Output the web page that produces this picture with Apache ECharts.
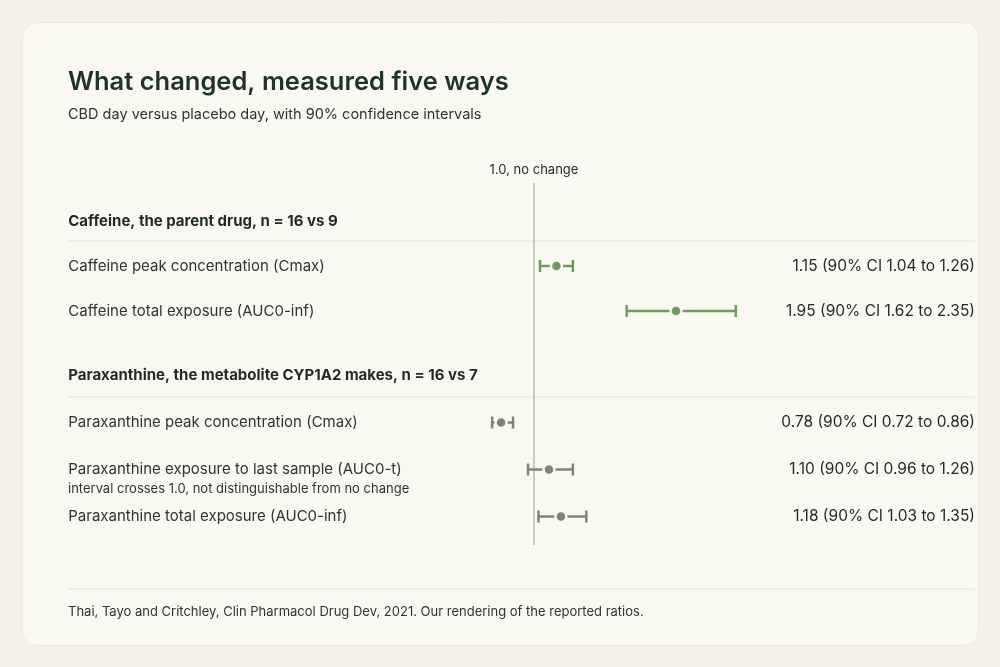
<!DOCTYPE html>
<html><head><meta charset="utf-8">
<script src="https://cdn.jsdelivr.net/npm/echarts@6/dist/echarts.min.js"></script>
<style>html,body{margin:0;background:#f3f1e7}#c{width:1000px;height:667px}</style>
</head><body><div id="c"></div>
<script>
const caffeineRows = ['Caffeine, the parent drug, n = 16 vs 9','Caffeine peak concentration (Cmax)','Caffeine total exposure (AUC0-inf)'];
const paraRows = ['Paraxanthine, the metabolite CYP1A2 makes, n = 16 vs 7','Paraxanthine peak concentration (Cmax)','Paraxanthine exposure to last sample (AUC0-t)','Paraxanthine total exposure (AUC0-inf)'];
const caffeineEst = [1.15, 1.95], caffeineLo = [1.04, 1.62], caffeineHi = [1.26, 2.35];
const paraEst = [0.78, 1.10, 1.18], paraLo = [0.72, 0.96, 1.03], paraHi = [0.86, 1.26, 1.35];
const paraNotes = ['', 'interval crosses 1.0, not distinguishable from no change', ''];
const FONT = 'Inter';
function fmt(e,l,h){return e.toFixed(2)+' (90% CI '+l.toFixed(2)+' to '+h.toFixed(2)+')';}
function build(est,lo,hi,notes){return est.map((e,i)=>[i+1,e,lo[i],hi[i],fmt(e,lo[i],hi[i]),notes?notes[i]:'']);}
function render(color){
  return function(params, api){
    const y = api.coord([1, api.value(0)])[1];
    const pE = api.coord([api.value(1), api.value(0)]);
    const pL = api.coord([api.value(2), api.value(0)]);
    const pH = api.coord([api.value(3), api.value(0)]);
    const st = {stroke: color, lineWidth: 2.5};
    const ch = [
      {type:'line', shape:{x1:pL[0],y1:y,x2:pH[0],y2:y}, style:st},
      {type:'line', shape:{x1:pL[0],y1:y-6,x2:pL[0],y2:y+6}, style:st},
      {type:'line', shape:{x1:pH[0],y1:y-6,x2:pH[0],y2:y+6}, style:st},
      {type:'circle', shape:{cx:pE[0],cy:y,r:5.5}, style:{fill:color, stroke:'#faf9f1', lineWidth:2.5}},
      {type:'text', x:975, y:y, style:{text:api.value(4), align:'right', verticalAlign:'middle', font:'15.5px '+FONT, fill:'#1f2a24'}}
    ];
    const note = api.value(5);
    if (note) ch.push({type:'text', x:68, y:y+20, style:{text:note, align:'left', verticalAlign:'middle', font:'13px '+FONT, fill:'#2c3630'}});
    return {type:'group', children:ch};
  };
}
const xCommon = {type:'value', min:0.5, max:2.5, show:false};
function yAx(gi, cats){
  return {type:'category', gridIndex:gi, data:cats, inverse:true, axisLine:{show:false}, axisTick:{show:false},
    axisLabel:{margin:391, align:'left', fontFamily:FONT, fontSize:15, color:'#2c3630',
      formatter:(v,i)=> i===0 ? '{b|'+v+'}' : v,
      rich:{b:{fontWeight:700, fontSize:15, color:'#1f2a24', fontFamily:FONT}}}};
}
const chart = echarts.init(document.getElementById('c'));
chart.setOption({
  backgroundColor:'#f3f1e7',
  animation:false,
  textStyle:{fontFamily:FONT},
  title:{text:'What changed, measured five ways', subtext:'CBD day versus placebo day, with 90% confidence intervals',
    left:63, top:64, itemGap:12,
    textStyle:{fontSize:25.5, fontWeight:600, color:'#1f3328', fontFamily:FONT},
    subtextStyle:{fontSize:14.5, color:'#2c3630', fontFamily:FONT}},
  graphic:[
    {type:'rect', left:22, top:22, shape:{width:956, height:623, r:14}, style:{fill:'#faf9f1', stroke:'#ecebe0'}, z:-10},
    {type:'line', shape:{x1:68,y1:241,x2:975,y2:241}, style:{stroke:'#e4e2d6', lineWidth:1}, z:-5},
    {type:'line', shape:{x1:68,y1:397,x2:975,y2:397}, style:{stroke:'#e4e2d6', lineWidth:1}, z:-5},
    {type:'line', shape:{x1:68,y1:589,x2:975,y2:589}, style:{stroke:'#e4e2d6', lineWidth:1}, z:-5},
    {type:'text', left:68, top:606, style:{text:'Thai, Tayo and Critchley, Clin Pharmacol Drug Dev, 2021. Our rendering of the reported ratios.', font:'13px '+FONT, fill:'#2c3630'}}
  ],
  grid:[
    {left:459.25, width:299, top:198.5, height:135},
    {left:459.25, width:299, top:352, height:188},
    {left:459.25, width:299, top:183, height:362}
  ],
  xAxis:[Object.assign({gridIndex:0},xCommon),Object.assign({gridIndex:1},xCommon),Object.assign({gridIndex:2},xCommon)],
  yAxis:[yAx(0,caffeineRows), yAx(1,paraRows), {type:'value', gridIndex:2, min:0, max:1, show:false}],
  series:[
    {type:'custom', xAxisIndex:0, yAxisIndex:0, renderItem:render('#6f9c5e'), data:build(caffeineEst,caffeineLo,caffeineHi), clip:false, z:5},
    {type:'custom', xAxisIndex:1, yAxisIndex:1, renderItem:render('#7d8474'), data:build(paraEst,paraLo,paraHi,paraNotes), clip:false, z:5},
    {type:'line', xAxisIndex:2, yAxisIndex:2, data:[], markLine:{symbol:'none', silent:true,
      lineStyle:{color:'#b9bab0', type:'solid', width:1.5},
      label:{position:'end', formatter:'1.0, no change', fontFamily:FONT, fontSize:13, color:'#1f2a24', distance:6},
      data:[{xAxis:1}]}, z:1}
  ]
});
</script></body></html>
